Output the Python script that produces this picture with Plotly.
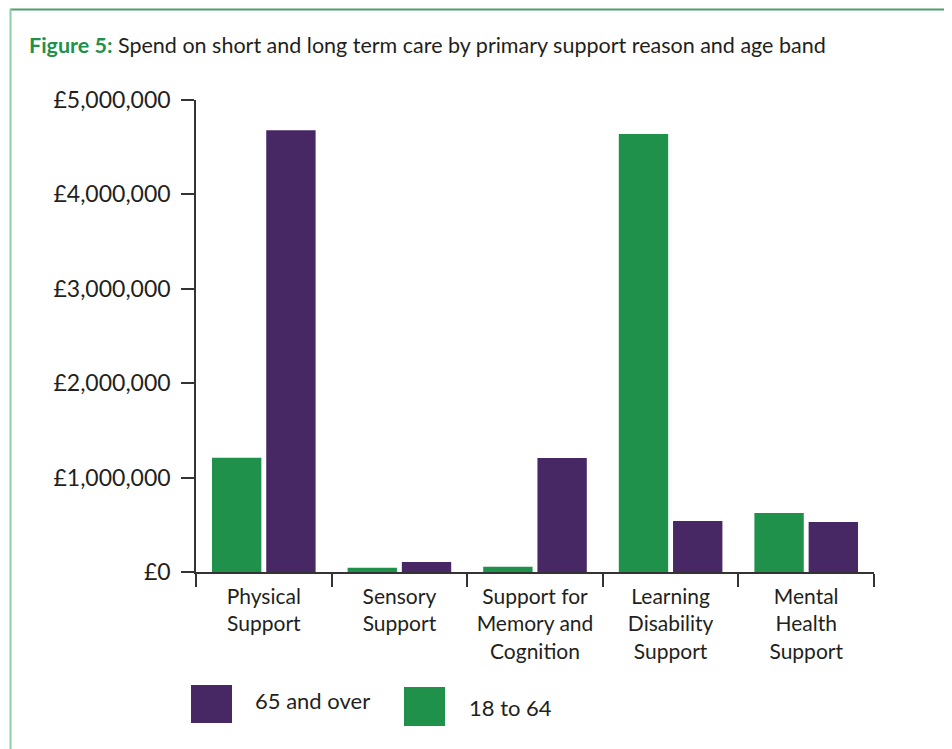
import plotly.graph_objects as go

categories = ["Physical<br>Support", "Sensory<br>Support", "Support for<br>Memory and<br>Cognition",
              "Learning<br>Disability<br>Support", "Mental<br>Health<br>Support"]
age_18_64 = [1210000, 45000, 56000, 4640000, 625000]
age_65_over = [4680000, 106000, 1207000, 540000, 530000]
y_ticks = [0, 1000000, 2000000, 3000000, 4000000, 5000000]
y_tick_labels = ["\u00a30", "\u00a31,000,000", "\u00a32,000,000", "\u00a33,000,000",
                 "\u00a34,000,000", "\u00a35,000,000"]

GREEN = "#1f914a"
PURPLE = "#472865"
TEXT = "#231f20"
FONT = "Lato"

OFF = 8  # page body margin
W, H = 952 - OFF, 749 - OFF
L, R, T, B = 196 - OFF, 874 - OFF, 100 - OFF, 572 - OFF

def px(x):
    return (x - OFF - L) / (R - L)

def py(y):
    return (B - (y - OFF)) / (B - T)

fig = go.Figure()
fig.add_trace(go.Bar(x=categories, y=age_18_64, name="18 to 64", marker_color=GREEN, marker_line_width=0))
fig.add_trace(go.Bar(x=categories, y=age_65_over, name="65 and over", marker_color=PURPLE, marker_line_width=0))

shapes = [
    # frame lines
    dict(type="line", xref="paper", yref="paper", x0=px(10), x1=px(960), y0=py(9.5), y1=py(9.5),
         line=dict(color="#4e9f6e", width=2)),
    dict(type="line", xref="paper", yref="paper", x0=px(10.5), x1=px(10.5), y0=py(9), y1=py(760),
         line=dict(color="#8ecda7", width=2)),
    # legend swatches
    dict(type="rect", xref="paper", yref="paper", x0=px(191), x1=px(232), y0=py(685), y1=py(723),
         fillcolor=PURPLE, line_width=0),
    dict(type="rect", xref="paper", yref="paper", x0=px(404), x1=px(445), y0=py(687), y1=py(726),
         fillcolor=GREEN, line_width=0),
]

annotations = [
    dict(text="<b><span style='color:%s'>Figure 5:</span></b> Spend on short and long term care by primary support reason and age band" % GREEN,
         xref="paper", yref="paper", x=px(27), y=py(45), xanchor="left", yanchor="middle",
         showarrow=False, font=dict(size=21.5, color=TEXT, family=FONT)),
    dict(text="65 and over", xref="paper", yref="paper", x=px(253), y=py(700), xanchor="left", yanchor="middle",
         showarrow=False, font=dict(size=22, color=TEXT, family=FONT)),
    dict(text="18 to 64", xref="paper", yref="paper", x=px(467), y=py(707), xanchor="left", yanchor="middle",
         showarrow=False, font=dict(size=22, color=TEXT, family=FONT)),
]

fig.update_layout(
    width=W, height=H,
    margin=dict(l=L, r=W - R, t=T, b=H - B),
    paper_bgcolor="white", plot_bgcolor="white",
    barmode="group", bargap=0.2, bargroupgap=0.09,
    showlegend=False,
    font=dict(family=FONT, size=21, color=TEXT),
    shapes=shapes, annotations=annotations,
)
fig.update_xaxes(showline=True, linecolor="#333333", linewidth=1.5,
                 ticks="outside", tickson="boundaries", ticklen=13, tickcolor="#333333", tickwidth=1.5,
                 showgrid=False, ticklabelstandoff=5,
                 tickfont=dict(size=21, color=TEXT, family=FONT))
fig.update_yaxes(range=[0, 5000000], tickvals=y_ticks, ticktext=y_tick_labels,
                 showline=True, linecolor="#333333", linewidth=1.5,
                 ticks="outside", ticklen=13, tickcolor="#333333", tickwidth=1.5,
                 showgrid=False, zeroline=False, ticklabelstandoff=6,
                 tickfont=dict(size=23, color=TEXT, family=FONT))

fig.write_html("out.html")
